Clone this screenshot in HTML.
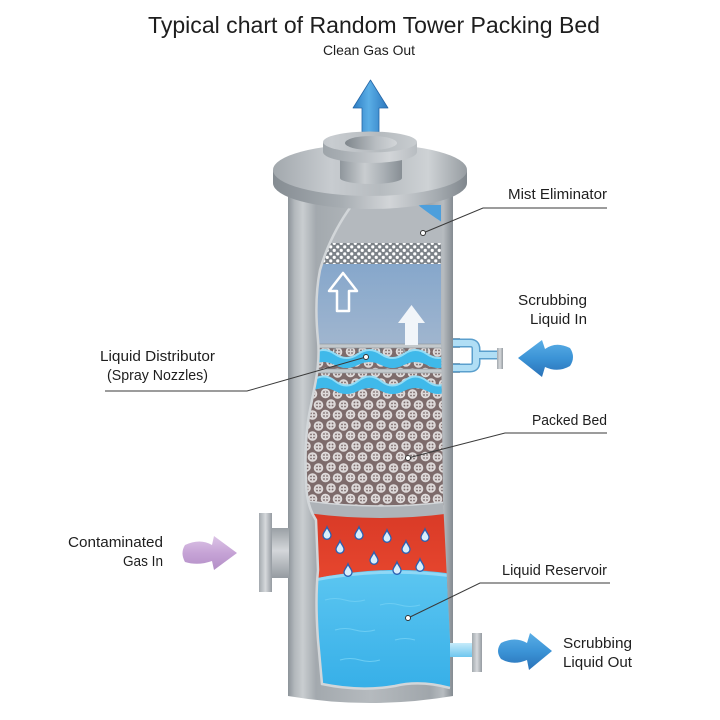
<!DOCTYPE html>
<html><head><meta charset="utf-8"><style>
html,body{margin:0;padding:0;background:#fff;}
svg{display:block;}
text{font-family:"Liberation Sans",Arial,sans-serif;fill:#1e1e1e;}
</style></head><body>
<svg width="720" height="720" viewBox="0 0 720 720" xmlns="http://www.w3.org/2000/svg">
<defs>
 <linearGradient id="body" x1="288" x2="453" gradientUnits="userSpaceOnUse">
  <stop offset="0" stop-color="#8c9399"/><stop offset="0.04" stop-color="#b3b8bc"/>
  <stop offset="0.09" stop-color="#c9cdd0"/><stop offset="0.17" stop-color="#a3a9ae"/>
  <stop offset="0.5" stop-color="#b5babe"/><stop offset="0.86" stop-color="#a0a6ab"/>
  <stop offset="0.94" stop-color="#b7bcc0"/><stop offset="1" stop-color="#848b91"/>
 </linearGradient>
 <linearGradient id="discTop" x1="273" x2="467" gradientUnits="userSpaceOnUse">
  <stop offset="0" stop-color="#a2a8ad"/><stop offset="0.3" stop-color="#c8ccd0"/>
  <stop offset="0.55" stop-color="#b6bbbf"/><stop offset="0.8" stop-color="#ced2d5"/>
  <stop offset="1" stop-color="#979da2"/>
 </linearGradient>
 <linearGradient id="discRim" x1="273" x2="467" gradientUnits="userSpaceOnUse">
  <stop offset="0" stop-color="#858c92"/><stop offset="0.35" stop-color="#a7adb2"/>
  <stop offset="0.6" stop-color="#d2d5d8"/><stop offset="0.85" stop-color="#a4aaaf"/>
  <stop offset="1" stop-color="#80878d"/>
 </linearGradient>
 <linearGradient id="neck" x1="0" x2="1">
  <stop offset="0" stop-color="#8f969c"/><stop offset="0.4" stop-color="#c9cdd0"/>
  <stop offset="0.7" stop-color="#aab0b5"/><stop offset="1" stop-color="#878e94"/>
 </linearGradient>
 <linearGradient id="hole" x1="0" x2="1">
  <stop offset="0" stop-color="#7f868c"/><stop offset="0.6" stop-color="#b9bec2"/>
  <stop offset="1" stop-color="#d3d6d9"/>
 </linearGradient>
 <linearGradient id="vgrey" x1="0" y1="0" x2="0" y2="1">
  <stop offset="0" stop-color="#9aa0a5"/><stop offset="0.45" stop-color="#d4d7da"/>
  <stop offset="1" stop-color="#959ba1"/>
 </linearGradient>
 <linearGradient id="hgrey" x1="0" x2="1">
  <stop offset="0" stop-color="#a3a9ae"/><stop offset="0.5" stop-color="#d6d9dc"/>
  <stop offset="1" stop-color="#959ba1"/>
 </linearGradient>
 <linearGradient id="gas" x1="0" y1="0" x2="0" y2="1">
  <stop offset="0" stop-color="#86a7cb"/><stop offset="1" stop-color="#a1b6cf"/>
 </linearGradient>
 <linearGradient id="water" x1="0" y1="0" x2="0" y2="1">
  <stop offset="0" stop-color="#5cc6f1"/><stop offset="1" stop-color="#33ade7"/>
 </linearGradient>
 <linearGradient id="red" x1="0" y1="0" x2="0" y2="1">
  <stop offset="0" stop-color="#d93a27"/><stop offset="1" stop-color="#ea4a30"/>
 </linearGradient>
 <linearGradient id="blueArrow" x1="0" y1="0" x2="0" y2="1">
  <stop offset="0" stop-color="#5aaee6"/><stop offset="0.5" stop-color="#3b93d6"/>
  <stop offset="1" stop-color="#2a72b8"/>
 </linearGradient>
 <linearGradient id="blueArrowV" x1="0" x2="1">
  <stop offset="0" stop-color="#2d7cc2"/><stop offset="0.45" stop-color="#5aaee6"/>
  <stop offset="1" stop-color="#2c77bd"/>
 </linearGradient>
 <linearGradient id="purple" x1="0" y1="0" x2="0" y2="1">
  <stop offset="0" stop-color="#dcc4e6"/><stop offset="0.5" stop-color="#c6a3d6"/>
  <stop offset="1" stop-color="#b38fc6"/>
 </linearGradient>
 <linearGradient id="outPipe" x1="0" y1="0" x2="0" y2="1">
  <stop offset="0" stop-color="#c6ebfa"/><stop offset="1" stop-color="#6ec6ef"/>
 </linearGradient>
 <g id="ring">
  <circle cx="0" cy="0" r="4.8" fill="#e0dcdc"/>
  <circle cx="0" cy="0" r="2.9" fill="none" stroke="#c9c2c2" stroke-width="0.6"/>
  <circle cx="-1.5" cy="-1.5" r="0.9" fill="#7a6a6a"/><circle cx="1.5" cy="-1.5" r="0.9" fill="#7a6a6a"/>
  <circle cx="-1.5" cy="1.5" r="0.9" fill="#7a6a6a"/><circle cx="1.5" cy="1.5" r="0.9" fill="#7a6a6a"/>
 </g>
 <pattern id="rings" width="25" height="21" patternUnits="userSpaceOnUse">
  <rect width="25" height="21" fill="#7d6b6b"/>
  <use href="#ring" x="6" y="5"/><use href="#ring" x="18.5" y="6"/>
  <use href="#ring" x="0.5" y="15.5"/><use href="#ring" x="25.5" y="15.5"/>
  <use href="#ring" x="12.5" y="16"/>
  <use href="#ring" x="6" y="26"/><use href="#ring" x="18.5" y="27"/>
  <use href="#ring" x="0.5" y="-5.5"/><use href="#ring" x="25.5" y="-5.5"/>
  <use href="#ring" x="12.5" y="-5"/>
 </pattern>
 <pattern id="mesh" width="7" height="7" patternUnits="userSpaceOnUse">
  <rect width="7" height="7" fill="#7c8288"/>
  <circle cx="1.75" cy="1.9" r="1.6" fill="#fff"/><circle cx="5.25" cy="5.4" r="1.6" fill="#fff"/>
 </pattern>
 <clipPath id="win">
  <path d="M352,205 L441,205 L441,340 L443,500 L447,580 L450,640 L450,688 Q420,680 395,686 Q360,692 322,684 L318,640 Q315,600 318,570 L316,520 Q306,505 306,480 Q304,440 310,410 L315,385 Q320,360 318,340 Q314,300 320,270 Q330,235 352,205 Z"/>
 </clipPath>
 <path id="drop" d="M0,-6 C1,-3 4,-0.5 4,2.3 A4,4 0 0 1 -4,2.3 C-4,-0.5 -1,-3 0,-6Z" fill="#d9eefb" stroke="#2a60b2" stroke-width="1.3"/>
</defs>

<!-- Title -->
<text x="148" y="33" font-size="23" textLength="452" lengthAdjust="spacingAndGlyphs">Typical chart of Random Tower Packing Bed</text>
<text x="323" y="55" font-size="14" textLength="92" lengthAdjust="spacingAndGlyphs">Clean Gas Out</text>

<!-- top arrow -->
<path d="M370.5,80 L388,108 L379,108 L379,132 L362,132 L362,108 L353,108 Z" fill="url(#blueArrowV)" stroke="#2566a6" stroke-width="0.8" stroke-linejoin="round"/>

<!-- body -->
<path d="M288,183 L288,696 Q370,710 453,696 L453,183 Z" fill="url(#body)"/>

<!-- window contents -->
<g clip-path="url(#win)">
 <rect x="300" y="200" width="160" height="500" fill="#b0b6bb"/>
 <rect x="300" y="200" width="160" height="45" fill="#b4b9be"/>
 <path d="M418,205 L445,205 L445,224 Q432,216 418,205Z" fill="#4d9fdc"/>
 <rect x="300" y="243" width="160" height="21" fill="url(#mesh)"/>
 <rect x="300" y="264" width="160" height="84" fill="url(#gas)"/>
 <rect x="300" y="348" width="160" height="165" fill="url(#rings)"/>
 <!-- spray layers -->
 <path d="M312,354 Q323.5,346 335,354 T358,354 T381,354 T404,354 T427,354 T450,354 L450,365 Q438.5,371 427,365 T404,365 T381,365 T358,365 T335,365 T312,365 Z" fill="#3fb9ea"/>
 <path d="M312,354 Q323.5,346 335,354 T358,354 T381,354 T404,354 T427,354 T450,354" fill="none" stroke="#93dcf6" stroke-width="2"/>
 <path d="M312,381 Q323.5,372 335,381 T358,381 T381,381 T404,381 T427,381 T450,381 L450,391 Q438.5,397 427,391 T404,391 T381,391 T358,391 T335,391 T312,391 Z" fill="#3fb9ea"/>
 <path d="M312,381 Q323.5,372 335,381 T358,381 T381,381 T404,381 T427,381 T450,381" fill="none" stroke="#93dcf6" stroke-width="2"/>
 <!-- distributor bars -->
 <rect x="300" y="344" width="160" height="4" fill="#c4c9cc" stroke="#8a9197" stroke-width="0.6"/>
 <rect x="300" y="369" width="160" height="4" fill="#c4c9cc" stroke="#8a9197" stroke-width="0.6"/>
 <path d="M335,348v5M358,348v5M381,348v5M404,348v5M427,348v5" stroke="#6d757b" stroke-width="1.2"/>
 <!-- support ring -->
 <path d="M300,500 Q380,512 460,500 L460,512 Q380,524 300,512 Z" fill="#aeb3b8"/>
 <path d="M300,500 Q380,512 460,500" fill="none" stroke="#d3d6d9" stroke-width="1.5"/>
 <!-- red gas zone -->
 <path d="M300,512 Q380,524 460,512 L460,600 L300,600 Z" fill="url(#red)"/>
 <!-- water -->
 <path d="M300,582 Q380,562 460,575 L460,700 L300,700 Z" fill="url(#water)"/>
 <path d="M300,583 Q380,565 460,577" fill="none" stroke="#8fd8f6" stroke-width="3"/>
 <path d="M325,600 q10,-3 20,0 t20,0 M380,605 q10,-3 20,0 t20,0 M335,630 q10,-3 20,0 t20,0 M395,640 q10,-3 20,0 M340,660 q10,-3 20,0 t20,0" fill="none" stroke="#6ccdf3" stroke-width="1"/>
 <!-- hollow / solid arrows -->
 <path d="M343,273 L357,291 L349,291 L349,311 L337,311 L337,291 L329,291 Z" fill="none" stroke="#fff" stroke-width="2.5" stroke-linejoin="round"/>
 <path d="M411.5,305 L425,323 L418,323 L418,345 L405,345 L405,323 L398,323 Z" fill="#f1f5f9"/>
</g>
<!-- window cut edge -->
<path d="M352,205 Q330,235 320,270 Q314,300 318,340 Q320,360 315,385 L310,410 Q304,440 306,480 Q306,505 316,520 L318,570 Q315,600 318,640 L322,684 Q360,692 395,686 Q420,680 450,688" fill="none" stroke="#d2d6d9" stroke-width="2.5"/>

<!-- droplets -->
<use href="#drop" x="327" y="533"/><use href="#drop" x="359" y="533"/>
<use href="#drop" x="387" y="536"/><use href="#drop" x="425" y="535"/>
<use href="#drop" x="340" y="547"/><use href="#drop" x="374" y="558"/>
<use href="#drop" x="406" y="547"/><use href="#drop" x="348" y="570"/>
<use href="#drop" x="397" y="568"/><use href="#drop" x="420" y="565"/>

<!-- top disc -->
<path d="M273,170 L273,183 A97,26 0 0 0 467,183 L467,170 Z" fill="url(#discRim)"/>
<ellipse cx="370" cy="170" rx="97" ry="26" fill="url(#discTop)"/>
<!-- top nozzle -->
<path d="M340,150 L340,178 A31,6 0 0 0 402,178 L402,150 Z" fill="url(#neck)"/>
<path d="M323,142 L323,152 A47,11 0 0 0 417,152 L417,142 Z" fill="url(#discRim)"/>
<ellipse cx="370" cy="142" rx="47" ry="10.5" fill="url(#discTop)"/>
<ellipse cx="371" cy="143" rx="26" ry="7" fill="url(#hole)"/>

<!-- left gas inlet -->
<rect x="271" y="528" width="18" height="50" fill="url(#vgrey)"/>
<rect x="259" y="513" width="13" height="79" fill="url(#hgrey)"/>

<!-- right liquid inlet -->
<rect x="453" y="338" width="7" height="10" fill="#9aa0a6"/>
<rect x="453" y="363" width="7" height="10" fill="#9aa0a6"/>
<path d="M453,343 L470,343 Q476,343 476,349 L476,362 Q476,368 470,368 L453,368 M476,355 L498,355" fill="none" stroke="#5a9fcd" stroke-width="9"/>
<path d="M453,343 L470,343 Q476,343 476,349 L476,362 Q476,368 470,368 L453,368 M476,355 L498,355" fill="none" stroke="#b0def5" stroke-width="6"/>
<rect x="497" y="348" width="6" height="21" fill="url(#hgrey)"/>

<!-- bottom outlet -->
<rect x="450" y="643" width="23" height="14" fill="url(#outPipe)"/>
<rect x="472" y="633" width="10" height="39" fill="url(#hgrey)"/>

<!-- side arrows -->
<path d="M185,545 Q200,538 212,545 L214,536 L237,553 L214,570 L212,561 Q198,566 185,562 Q180,553 185,545 Z" fill="url(#purple)"/>
<path d="M570,348 Q556,341 545,349 L542,340 L518,358 L542,377 L545,367 Q558,373 570,366 Q576,357 570,348 Z" fill="url(#blueArrow)"/>
<path d="M501,643 Q515,636 527,643 L530,633 L552,651 L529,670 L527,660 Q513,666 501,659 Q495,651 501,643 Z" fill="url(#blueArrow)"/>

<!-- leader lines -->
<g fill="none" stroke="#3a3a3a" stroke-width="1">
 <polyline points="607,208 483,208 423,233"/>
 <polyline points="607,433 505,433 408,458"/>
 <polyline points="105,391 247,391 366,357"/>
 <polyline points="610,583 480,583 408,618"/>
</g>
<g fill="#fff" stroke="#333" stroke-width="1">
 <circle cx="423" cy="233" r="2.5"/><circle cx="408" cy="458" r="2.5"/>
 <circle cx="366" cy="357" r="2.5"/><circle cx="408" cy="618" r="2.5"/>
</g>

<!-- labels -->
<g font-size="15">
 <text x="508" y="199" textLength="99" lengthAdjust="spacingAndGlyphs">Mist Eliminator</text>
 <text x="518" y="305" textLength="69" lengthAdjust="spacingAndGlyphs">Scrubbing</text>
 <text x="530" y="324" textLength="57" lengthAdjust="spacingAndGlyphs">Liquid In</text>
 <text x="532" y="425" textLength="75" lengthAdjust="spacingAndGlyphs">Packed Bed</text>
 <text x="100" y="361" textLength="115" lengthAdjust="spacingAndGlyphs">Liquid Distributor</text>
 <text x="107" y="380" textLength="101" lengthAdjust="spacingAndGlyphs">(Spray Nozzles)</text>
 <text x="68" y="547" textLength="95" lengthAdjust="spacingAndGlyphs">Contaminated</text>
 <text x="123" y="566" textLength="40" lengthAdjust="spacingAndGlyphs">Gas In</text>
 <text x="502" y="575" textLength="105" lengthAdjust="spacingAndGlyphs">Liquid Reservoir</text>
 <text x="563" y="648" textLength="69" lengthAdjust="spacingAndGlyphs">Scrubbing</text>
 <text x="563" y="667" textLength="69" lengthAdjust="spacingAndGlyphs">Liquid Out</text>
</g>
</svg>
</body></html>
